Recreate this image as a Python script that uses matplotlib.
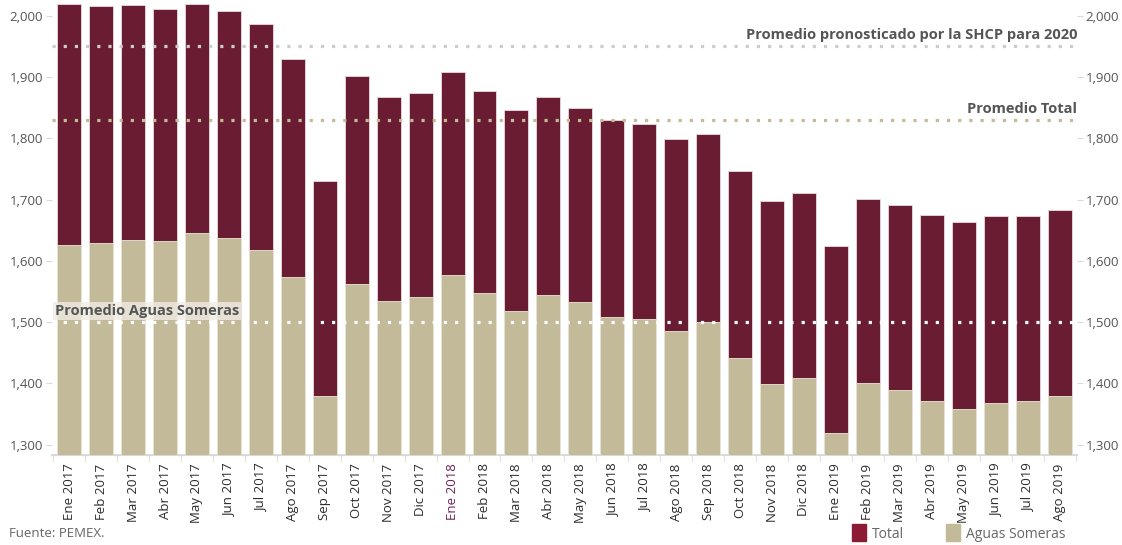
import numpy as np
import matplotlib.pyplot as plt

plt.rcParams['font.family'] = ['Open Sans', 'DejaVu Sans']

months = ['Ene 2017', 'Feb 2017', 'Mar 2017', 'Abr 2017', 'May 2017', 'Jun 2017', 'Jul 2017', 'Ago 2017',
          'Sep 2017', 'Oct 2017', 'Nov 2017', 'Dic 2017', 'Ene 2018', 'Feb 2018', 'Mar 2018', 'Abr 2018',
          'May 2018', 'Jun 2018', 'Jul 2018', 'Ago 2018', 'Sep 2018', 'Oct 2018', 'Nov 2018', 'Dic 2018',
          'Ene 2019', 'Feb 2019', 'Mar 2019', 'Abr 2019', 'May 2019', 'Jun 2019', 'Jul 2019', 'Ago 2019']
total = [2020, 2016, 2018, 2012, 2020, 2008, 1987, 1930,
         1730, 1902, 1868, 1874, 1909, 1877, 1846, 1868,
         1850, 1830, 1824, 1799, 1807, 1747, 1698, 1711,
         1624, 1701, 1691, 1675, 1663, 1673, 1673, 1683]
someras = [1626, 1629, 1634, 1632, 1645, 1637, 1618, 1573,
           1379, 1562, 1534, 1541, 1577, 1547, 1518, 1544,
           1533, 1508, 1505, 1485, 1500, 1441, 1399, 1409,
           1319, 1400, 1389, 1371, 1359, 1368, 1371, 1379]
prom_shcp = 1951
prom_total = 1830
prom_someras = 1500
yticks = [1300, 1400, 1500, 1600, 1700, 1800, 1900, 2000]

maroon = '#691c32'
beige = '#c3ba99'
txt = '#555555'
base = 1283

fig = plt.figure(figsize=(11.22, 5.45), dpi=100)
ax = fig.add_axes([0.046, 0.165, 0.914, 0.835])
x = np.arange(len(months))

ax.bar(x, np.array(total) - base, bottom=base, width=0.75, color=maroon, edgecolor='#e8dde0', linewidth=0.6, zorder=2)
ax.bar(x, np.array(someras) - base, bottom=base, width=0.75, color=beige, edgecolor='#ebe7da', linewidth=0.6, zorder=3)

# lineas de promedio punteadas
xr = [-0.55, len(months) - 0.45]
ax.plot(xr, [prom_shcp] * 2, color='#cccccc', lw=2.3, ls=(0, (1, 2.5)), zorder=4)
ax.plot(xr, [prom_total] * 2, color='#c3ba99', lw=2.3, ls=(0, (1, 2.5)), zorder=4)
ax.plot(xr, [prom_someras] * 2, color='white', lw=2.3, ls=(0, (1, 2.5)), zorder=4)

ax.text(len(months) - 0.45, prom_shcp + 7, 'Promedio pronosticado por la SHCP para 2020', ha='right', va='bottom',
        fontsize=10.5, fontweight='bold', color=txt, zorder=5)
ax.text(len(months) - 0.45, prom_total + 7, 'Promedio Total', ha='right', va='bottom',
        fontsize=10.5, fontweight='bold', color=txt, zorder=5)
ax.text(-0.45, prom_someras + 7, 'Promedio Aguas Someras', ha='left', va='bottom',
        fontsize=10.5, fontweight='bold', color=txt, zorder=5,
        bbox=dict(boxstyle='square,pad=0.15', facecolor='#efece4', edgecolor='none', alpha=0.8))

ax.set_xlim(-0.55, len(months) - 0.45)
ax.set_ylim(base, 2026)
ax.set_yticks(yticks)
ax.set_yticklabels([f'{v:,}' for v in yticks])
ax.set_xticks(x)
ax.set_xticklabels(months, rotation=90, fontsize=9.5, color='#2b2b2b')
ax.get_xticklabels()[12].set_color('#6b2357')
ax.tick_params(axis='x', length=0, pad=6)
ax.set_xticks(np.arange(len(months) + 1) - 0.5, minor=True)
ax.tick_params(axis='x', which='minor', length=5, color='#d9d9d9')
ax.tick_params(axis='y', length=4, color='#d9d9d9', labelsize=9.5, labelcolor=txt, pad=2)

for s in ['top', 'right', 'left']:
    ax.spines[s].set_visible(False)
ax.spines['bottom'].set_color('#d9d9d9')
ax.spines['bottom'].set_linewidth(1.5)

ax2 = ax.twinx()
ax2.set_ylim(ax.get_ylim())
ax2.set_yticks(yticks)
ax2.set_yticklabels([f'{v:,}' for v in yticks])
ax2.tick_params(axis='y', length=4, color='#d9d9d9', labelsize=9.5, labelcolor=txt, pad=2)
for s in ax2.spines.values():
    s.set_visible(False)

fig.text(0.008, 0.015, 'Fuente: PEMEX.', fontsize=9.5, color='#666666')

fig.patches.append(plt.Rectangle((0.759, 0.008), 0.013, 0.03, transform=fig.transFigure, color='#8c1a33'))
fig.text(0.777, 0.013, 'Total', fontsize=10, color='#666666')
fig.patches.append(plt.Rectangle((0.843, 0.008), 0.013, 0.03, transform=fig.transFigure, color=beige))
fig.text(0.861, 0.013, 'Aguas Someras', fontsize=10, color='#666666')

fig.savefig('out.png', dpi=100)
